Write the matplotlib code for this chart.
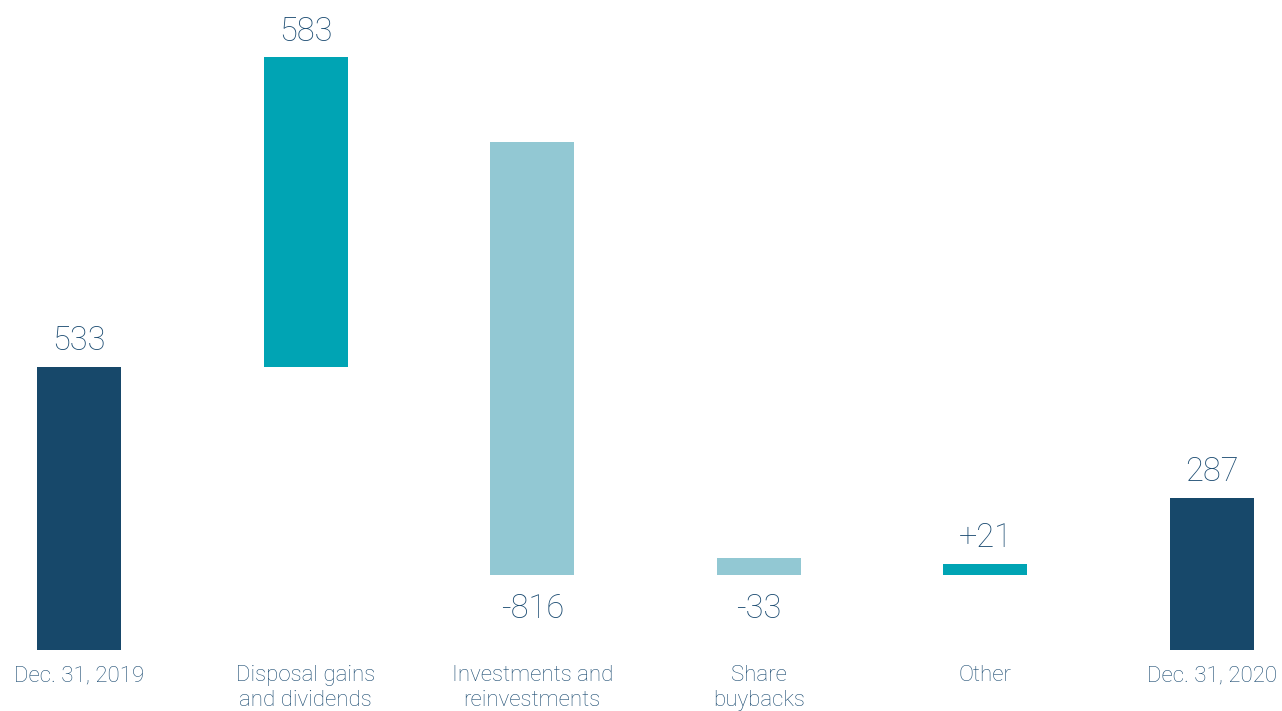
import matplotlib
matplotlib.use("Agg")
import matplotlib.pyplot as plt
from matplotlib import font_manager

categories = ["Dec. 31, 2019", "Disposal gains\nand dividends", "Investments and\nreinvestments",
              "Share\nbuybacks", "Other", "Dec. 31, 2020"]
values = [533, 583, -816, -33, 21, 287]
value_labels = ["533", "583", "-816", "-33", "+21", "287"]
# floor that the bars start from
bottoms = [0, 533, 141, 141, 141, 0]

NAVY = "#17486a"
TEAL = "#00a4b4"
LIGHT = "#92c8d3"
TEXT = "#1c4c72"
colors = [NAVY, TEAL, LIGHT, LIGHT, TEAL, NAVY]

names = {f.name for f in font_manager.fontManager.ttflist}
family = "Roboto" if "Roboto" in names else "DejaVu Sans"

fig = plt.figure(figsize=(12.82, 7.11), dpi=100)
ax = fig.add_axes([0, 0, 1, 1])
ax.axis("off")

x = list(range(len(categories)))
heights = [abs(v) for v in values]
ax.bar(x, heights, bottom=bottoms, width=0.37, color=colors)

for i, (v, lab, b) in enumerate(zip(values, value_labels, bottoms)):
    if v < 0:
        ax.annotate(lab, (x[i], b), xytext=(0, -13), textcoords="offset points",
                    ha="center", va="top", fontsize=23.5, color=TEXT,
                    family=family, fontweight="light")
    else:
        ax.annotate(lab, (x[i], b + v), xytext=(0, 7), textcoords="offset points",
                    ha="center", va="bottom", fontsize=23.5, color=TEXT,
                    family=family, fontweight="light")
    ax.annotate(categories[i], (x[i], 0), xytext=(0, -11), textcoords="offset points",
                ha="center", va="top", fontsize=16, color=TEXT, linespacing=1.25,
                family=family, fontweight="light")

ax.set_xlim(-79 / 226.6, (1282 - 79) / 226.6)
ax.set_ylim(-(711 - 650) / 0.531, 650 / 0.531)

fig.savefig("out.png", dpi=100)
